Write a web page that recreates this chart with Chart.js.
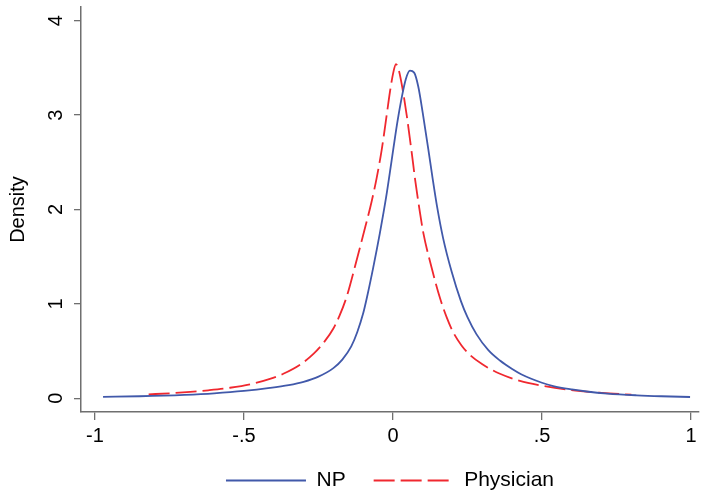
<!DOCTYPE html>
<html>
<head>
<meta charset="utf-8">
<script src="https://cdn.jsdelivr.net/npm/chart.js@4/dist/chart.umd.min.js"></script>
<style>
  html, body { margin: 0; padding: 0; background: #fff; }
  #wrap { width: 702px; height: 493px; }
</style>
</head>
<body>
<div id="wrap"><canvas id="densityChart"></canvas></div>
<script>
// kernel density estimates
var npX = [-0.973, -0.85, -0.7, -0.6, -0.5, -0.413, -0.35, -0.3, -0.25, -0.2, -0.17, -0.14, -0.12, -0.1, -0.088, -0.066, -0.044, -0.023, -0.011, 0.002, 0.015, 0.029, 0.043, 0.057, 0.071, 0.085, 0.1, 0.119, 0.133, 0.148, 0.168, 0.197, 0.228, 0.25, 0.28, 0.32, 0.359, 0.4, 0.43, 0.5, 0.538, 0.6, 0.65, 0.72, 0.818, 0.9, 0.997];
var npY = [0.015, 0.022, 0.037, 0.053, 0.078, 0.11, 0.14, 0.175, 0.23, 0.32, 0.41, 0.55, 0.70, 0.90, 1.06, 1.39, 1.75, 2.13, 2.38, 2.66, 2.93, 3.18, 3.38, 3.47, 3.45, 3.30, 3.02, 2.63, 2.33, 2.03, 1.70, 1.34, 1.03, 0.86, 0.68, 0.51, 0.40, 0.31, 0.255, 0.165, 0.13, 0.094, 0.072, 0.05, 0.032, 0.022, 0.014];

var physX = [-0.82, -0.75, -0.68, -0.62, -0.547, -0.47, -0.413, -0.368, -0.31, -0.267, -0.23, -0.2, -0.18, -0.155, -0.128, -0.1, -0.072, -0.055, -0.038, -0.022, -0.01, 0.001, 0.01, 0.02, 0.032, 0.046, 0.063, 0.075, 0.088, 0.102, 0.13, 0.158, 0.18, 0.202, 0.23, 0.258, 0.3, 0.359, 0.426, 0.493, 0.594, 0.7, 0.8];
var physY = [0.042, 0.053, 0.068, 0.085, 0.112, 0.155, 0.205, 0.26, 0.36, 0.47, 0.60, 0.74, 0.87, 1.08, 1.39, 1.73, 2.08, 2.33, 2.63, 2.98, 3.25, 3.45, 3.54, 3.47, 3.28, 3.0, 2.6, 2.3, 2.02, 1.75, 1.38, 1.06, 0.86, 0.70, 0.56, 0.46, 0.36, 0.26, 0.185, 0.138, 0.088, 0.058, 0.038];

var seriesNames = ['NP', 'Physician'];
var xTickValues = [-1, -0.5, 0, 0.5, 1];
var xTickLabels = ['-1', '-.5', '0', '.5', '1'];
var yTickValues = [0, 1, 2, 3, 4];
var yTickLabels = ['0', '1', '2', '3', '4'];

function toPoints(xs, ys) {
    var pts = [];
    for (var i = 0; i < xs.length; i++) {
        pts.push({ x: xs[i], y: ys[i] });
    }
    return pts;
}

var axisGrey = '#6f6f6f';
var fontFam = '"Liberation Sans", Arial, Helvetica, sans-serif';

var ctx = document.getElementById('densityChart').getContext('2d');
var chart = new Chart(ctx, {
    type: 'line',
    data: {
        datasets: [{
            label: seriesNames[0],
            data: toPoints(npX, npY),
            borderColor: '#4159aa',
            backgroundColor: '#4159aa',
            borderWidth: 1.8,
            pointRadius: 0,
            fill: false,
            cubicInterpolationMode: 'monotone'
        }, {
            label: seriesNames[1],
            data: toPoints(physX, physY),
            borderColor: '#f0282f',
            backgroundColor: '#f0282f',
            borderWidth: 1.8,
            borderDash: [21, 6],
            pointRadius: 0,
            fill: false,
            cubicInterpolationMode: 'monotone'
        }]
    },
    options: {
        responsive: true,
        maintainAspectRatio: false,
        animation: false,
        events: [],
        layout: {
            padding: { top: 7, right: 3, left: 0, bottom: -8 }
        },
        plugins: {
            tooltip: { enabled: false },
            legend: {
                position: 'bottom',
                fullSize: false, // centred under the plot region like stata does
                labels: {
                    usePointStyle: true,
                    pointStyle: 'line',
                    pointStyleWidth: 80,
                    padding: 28,
                    color: '#000',
                    font: { family: fontFam, size: 21 },
                    generateLabels: function(c) {
                        var items = Chart.defaults.plugins.legend.labels.generateLabels(c);
                        items.forEach(function(it) {
                            var ds = c.data.datasets[it.datasetIndex];
                            it.lineDash = ds.borderDash || [];
                            it.strokeStyle = ds.borderColor;
                            it.lineWidth = ds.borderWidth;
                        });
                        return items;
                    }
                }
            }
        },
        scales: {
            x: {
                type: 'linear',
                min: -1.047,
                max: 1.027,
                afterBuildTicks: function(s) {
                    s.ticks = xTickValues.map(function(v) { return { value: v }; });
                },
                afterFit: function(s) { s.height = 30; },
                ticks: {
                    color: '#000',
                    padding: 4,
                    maxRotation: 0,
                    autoSkip: false,
                    font: { family: fontFam, size: 20 },
                    callback: function(v) {
                        var i = xTickValues.indexOf(v);
                        return i >= 0 ? xTickLabels[i] : '';
                    }
                },
                grid: {
                    drawOnChartArea: false,
                    tickLength: 8,
                    color: axisGrey,
                    lineWidth: 1.3
                },
                border: { display: true, color: axisGrey, width: 1.5 }
            },
            y: {
                type: 'linear',
                min: -0.145,
                max: 4.145,
                afterBuildTicks: function(s) {
                    s.ticks = yTickValues.map(function(v) { return { value: v }; });
                },
                afterFit: function(s) {
                    s.width = 81;
                    // stop the rotated labels from pushing the plot down
                    s.paddingTop = 0;
                    s.paddingBottom = 0;
                },
                title: {
                    display: true,
                    text: 'Density',
                    color: '#000',
                    padding: { top: 6, bottom: 0 },
                    font: { family: fontFam, size: 20 }
                },
                ticks: {
                    color: '#000',
                    minRotation: 90,
                    maxRotation: 90,
                    crossAlign: 'center',
                    padding: 12,
                    autoSkip: false,
                    font: { family: fontFam, size: 20 },
                    callback: function(v) {
                        var i = yTickValues.indexOf(v);
                        return i >= 0 ? yTickLabels[i] : '';
                    }
                },
                grid: {
                    drawOnChartArea: false,
                    tickLength: 7,
                    color: axisGrey,
                    lineWidth: 1.3
                },
                border: { display: true, color: axisGrey, width: 1.5 }
            }
        }
    }
});
</script>
</body>
</html>
